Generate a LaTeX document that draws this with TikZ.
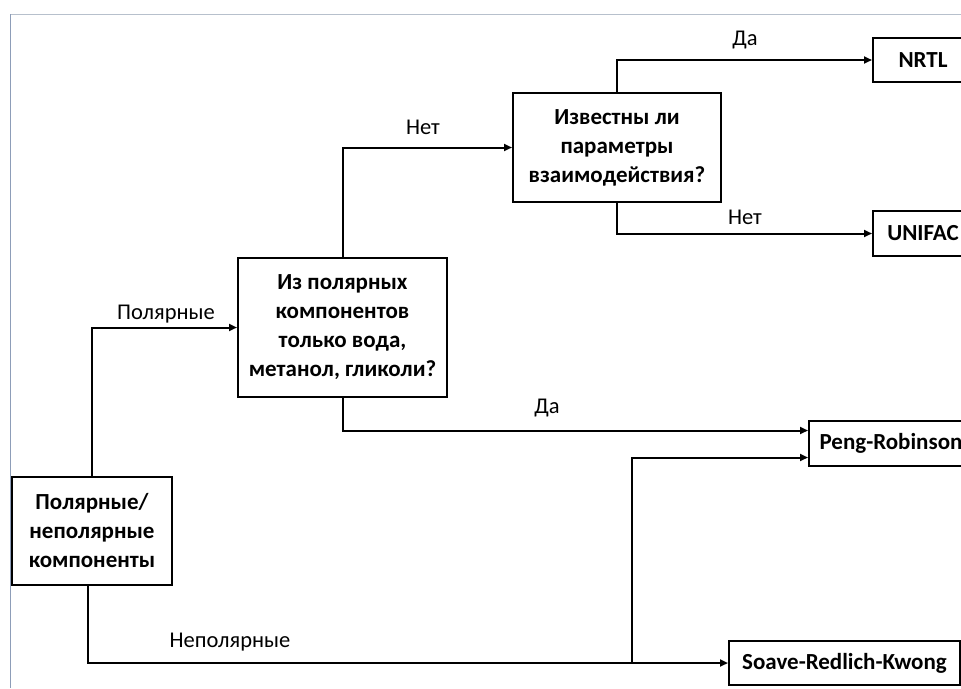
\documentclass[tikz,border=0pt]{standalone}
\usepackage{fontspec}
\setmainfont{Carlito}
\usetikzlibrary{arrows.meta, positioning, calc}
\definecolor{framegray}{RGB}{183, 192, 204}
\definecolor{frameblue}{RGB}{141, 157, 184}

\begin{document}
\begin{tikzpicture}[x=1pt, y=-1pt,
    box/.style={draw, line width=2pt, align=center, inner sep=2pt,
      font=\fontsize{23}{29}\selectfont\bfseries},
    arr/.style={line width=2pt, -{Triangle[length=8pt, width=7pt]}},
    lbl/.style={font=\fontsize{22.5}{26}\selectfont}]
  \clip (0, 0) rectangle (961, 688);
  \useasboundingbox (0, 0) rectangle (961, 688);

  % Frame
  \draw[framegray, line width=1pt] (10, 14) -- (961, 14);
  \draw[frameblue, line width=1pt] (10, 14) -- (10, 688);

  % Questions
  \node[box, minimum width=160, minimum height=108] (pn) at (92, 531)
    {Полярные/\\неполярные\\компоненты};
  \node[box, minimum width=209, minimum height=139] (q1) at (342.5, 327.5)
    {Из полярных\\компонентов\\только вода,\\метанол, гликоли?};
  \node[box, minimum width=208, minimum height=109] (q2) at (617, 147.5)
    {Известны ли\\параметры\\взаимодействия?};

  % Models
  \node[box, minimum width=100, minimum height=44] (nrtl) at (923, 60) {NRTL};
  \node[box, minimum width=100, minimum height=45] (unifac) at (923, 233.5) {UNIFAC};
  \node[box, minimum width=164, minimum height=45] (pr) at (891, 443.5) {Peng-Robinson};
  \node[box, minimum width=231, minimum height=44] (srk) at (844.5, 663) {Soave-Redlich-Kwong};

  % Connectors
  \draw[arr] (pn.north) |- (q1.west);
  \draw[arr] ([xshift=-4pt]pn.south) |- (srk.west);
  \coordinate (split) at (632, 663);
  \draw[arr] (split) |- ([yshift=-14pt]pr.west);
  \draw[arr] (q1.south) |- ([yshift=13pt]pr.west);
  \draw[arr] (q1.north) |- (q2.west);
  \draw[arr] (q2.north) |- (nrtl.west);
  \draw[arr] (q2.south) |- (unifac.west);

  % Labels
  \node[lbl] (lpol) at (166, 314) {Полярные};
  \node[lbl] (lnonpol) at (230, 642) {Неполярные};
  \node[lbl] (lno1) at (423, 127) {Нет};
  \node[lbl] (lyes1) at (547, 408) {Да};
  \node[lbl] (lyes2) at (745, 40) {Да};
  \node[lbl] (lno2) at (745, 217) {Нет};
\end{tikzpicture}
\end{document}
